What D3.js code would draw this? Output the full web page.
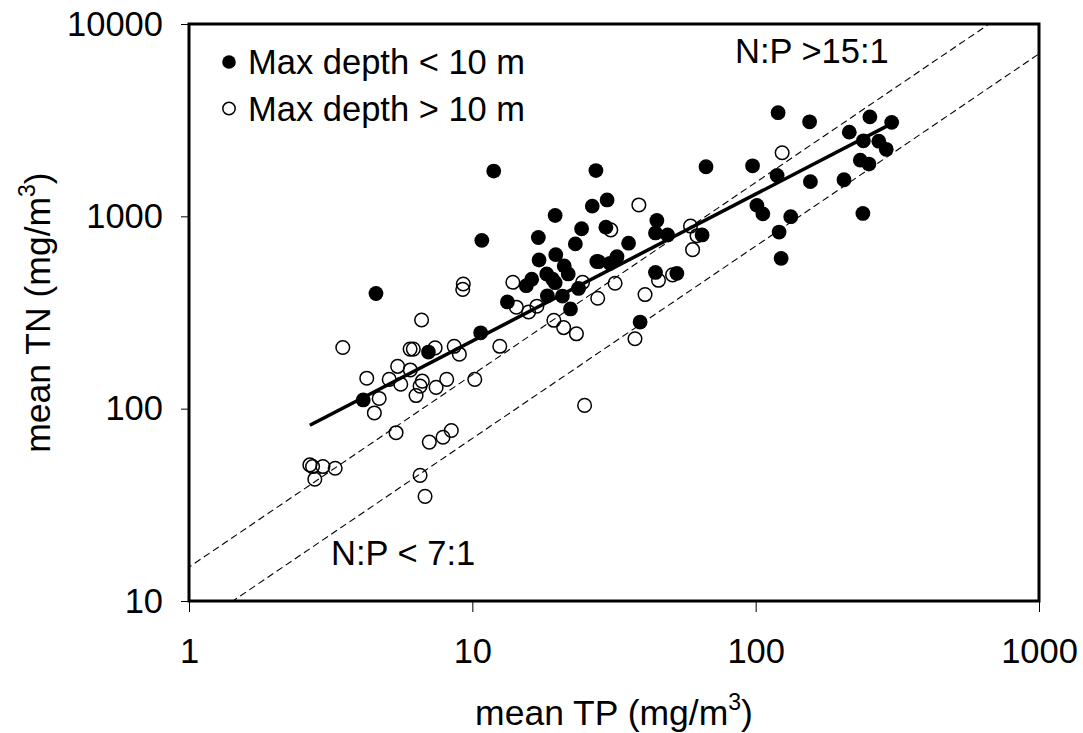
<!DOCTYPE html>
<html>
<head>
<meta charset="utf-8">
<script src="https://cdn.jsdelivr.net/npm/d3@7"></script>
<style>
body { margin: 0; background: #fff; }
svg text { font-family: "Liberation Sans", Arial, sans-serif; fill: #000; }
</style>
</head>
<body>
<svg width="1083" height="733"></svg>
<script>
// lakes with max depth < 10 m (filled markers)
const shallowTP = [11.9, 27.3, 26.5, 19.6, 10.8, 17.1, 24.3, 23.1, 4.57, 17.2,
    19.7, 21.1, 21.8, 27.5, 18.3, 19.2, 19.6, 16.2, 15.5, 23.7,
    18.4, 20.8, 22.2, 13.3, 10.7, 7.0, 4.12, 29.9, 29.6, 35.6,
    44.8, 44.3, 48.9, 64.7, 27.9, 32.4, 30.6, 44.3, 52.7, 39.1,
    120, 155, 253, 302, 214, 240, 272, 289, 66.8, 97.5,
    119, 234, 251, 156, 205, 101, 106, 133, 121, 239, 123];
const shallowTN = [1720, 1730, 1130, 1010, 750, 776, 862, 719, 397, 593,
    632, 552, 502, 583, 502, 471, 452, 471, 436, 422,
    386, 385, 330, 359, 248, 197, 111, 1217, 878, 725,
    952, 820, 800, 800, 581, 617, 570, 511, 505, 282,
    3460, 3100, 3290, 3080, 2740, 2470, 2460, 2230, 1810, 1830,
    1630, 1960, 1870, 1515, 1550, 1140, 1030, 996, 828, 1035, 604];

// lakes with max depth > 10 m (open markers)
const deepTP = [9.29, 9.25, 6.62, 13.9, 14.3, 15.8, 16.9, 24.5, 27.7, 19.4,
    21.0, 23.3, 12.5, 7.39, 8.63, 9.0, 6.66, 6.54, 8.12, 7.45,
    10.2, 6.33, 24.9, 7.05, 7.88, 8.43, 3.49, 6.03, 6.19, 5.45,
    4.24, 5.09, 6.04, 5.59, 4.69, 4.51, 5.38, 2.67, 2.73, 2.97,
    3.28, 2.78, 6.54, 6.81, 38.7, 30.8, 58.9, 62.1, 59.9, 31.9,
    45.4, 50.9, 40.7, 37.5, 124];
const deepTN = [445, 417, 289, 454, 337, 318, 341, 454, 375, 288,
    264, 245, 211, 207, 211, 192, 139, 131, 142, 129,
    142, 117, 104, 67, 71, 77, 208, 204, 204, 166,
    144, 142, 159, 134, 113, 95, 75, 51, 50, 50,
    49, 43, 45, 35, 1146, 850, 890, 793, 671, 449,
    465, 496, 392, 231, 2140];

// regression line end points
const fitTP = [2.67, 295];
const fitTN = [82, 2980];

// N:P reference ratios (dashed)
const npRatios = [15, 7];

const xTicks = [1, 10, 100, 1000];
const yTicks = [10, 100, 1000, 10000];

const svg = d3.select("svg");
const width = +svg.attr("width");
const height = +svg.attr("height");

const margin = { top: 24, right: 44, bottom: 132, left: 189 };
const inner_width = width - margin.left - margin.right;
const inner_height = height - margin.top - margin.bottom;

const plot_g = svg
    .append("g")
    .attr("transform", `translate(${margin.left}, ${margin.top})`);

const x_scale = d3.scaleLog().domain([1, 1000]).range([0, inner_width]);
const y_scale = d3.scaleLog().domain([10, 10000]).range([inner_height, 0]);

plot_g.append("clipPath")
    .attr("id", "plot-clip")
    .append("rect")
    .attr("width", inner_width)
    .attr("height", inner_height);

// axes (ticks only, the frame is drawn separately)
const x_axis = plot_g.append("g")
    .attr("transform", `translate(0, ${inner_height})`)
    .call(d3.axisBottom(x_scale).tickValues(xTicks).tickFormat(d3.format("d"))
        .tickSize(11).tickPadding(27));
const y_axis = plot_g.append("g")
    .call(d3.axisLeft(y_scale).tickValues(yTicks).tickFormat(d3.format("d"))
        .tickSize(8).tickPadding(18));

[x_axis, y_axis].forEach((a) => {
    a.select(".domain").remove();
    a.selectAll(".tick line").attr("stroke", "#000").attr("stroke-width", 1);
    a.selectAll(".tick text")
        .style("font-family", "'Liberation Sans', Arial, sans-serif")
        .style("font-size", "34.5px")
        .attr("fill", "#000");
});

// dashed N:P lines
const lines_g = plot_g.append("g").attr("clip-path", "url(#plot-clip)");
lines_g.selectAll("line.np")
    .data(npRatios)
    .enter()
    .append("line")
    .attr("class", "np")
    .attr("x1", x_scale(0.5))
    .attr("y1", (r) => y_scale(0.5 * r))
    .attr("x2", x_scale(2000))
    .attr("y2", (r) => y_scale(2000 * r))
    .attr("stroke", "#000")
    .attr("stroke-width", 1.1)
    .attr("stroke-dasharray", "7,4");

// regression line
lines_g.append("path")
    .attr("d", d3.line()(fitTP.map((d, i) => [x_scale(d), y_scale(fitTN[i])])))
    .attr("fill", "none")
    .attr("stroke", "#000")
    .attr("stroke-width", 3.5);

// points
plot_g.append("g")
    .selectAll("circle")
    .data(shallowTP)
    .enter()
    .append("circle")
    .attr("cx", (d) => x_scale(d))
    .attr("cy", (d, i) => y_scale(shallowTN[i]))
    .attr("r", 7.4)
    .attr("fill", "#000");

plot_g.append("g")
    .selectAll("circle")
    .data(deepTP)
    .enter()
    .append("circle")
    .attr("cx", (d) => x_scale(d))
    .attr("cy", (d, i) => y_scale(deepTN[i]))
    .attr("r", 6.8)
    .attr("fill", "none")
    .attr("stroke", "#000")
    .attr("stroke-width", 1.5);

// frame
plot_g.append("rect")
    .attr("width", inner_width)
    .attr("height", inner_height)
    .attr("fill", "none")
    .attr("stroke", "#000")
    .attr("stroke-width", 3);

// legend
const legend = [
    { label: "Max depth < 10 m", filled: true },
    { label: "Max depth > 10 m", filled: false },
];
const legend_g = plot_g.append("g").attr("transform", "translate(40, 38)");
legend_g.selectAll("circle")
    .data(legend)
    .enter()
    .append("circle")
    .attr("cx", 0)
    .attr("cy", (d, i) => i * 46.5)
    .attr("r", (d) => d.filled ? 6.8 : 6.2)
    .attr("fill", (d) => d.filled ? "#000" : "none")
    .attr("stroke", "#000")
    .attr("stroke-width", (d) => d.filled ? 0 : 1.5);
legend_g.selectAll("text")
    .data(legend)
    .enter()
    .append("text")
    .attr("x", 19)
    .attr("y", (d, i) => i * 46.5 + 12)
    .style("font-size", "34.5px")
    .text((d) => d.label);

// ratio annotations
plot_g.append("text")
    .attr("x", 546)
    .attr("y", 39)
    .style("font-size", "34.5px")
    .text("N:P >15:1");
plot_g.append("text")
    .attr("x", 142)
    .attr("y", 541)
    .style("font-size", "34.5px")
    .text("N:P < 7:1");

// axis titles
const x_title = svg.append("text")
    .attr("x", margin.left + inner_width / 2)
    .attr("y", 725)
    .attr("text-anchor", "middle")
    .style("font-size", "35.5px");
x_title.append("tspan").text("mean TP (mg/m");
x_title.append("tspan").attr("dy", -15).style("font-size", "23px").text("3");
x_title.append("tspan").attr("dy", 15).text(")");

const y_title = svg.append("text")
    .attr("transform", `translate(50, ${margin.top + inner_height / 2}) rotate(-90)`)
    .attr("text-anchor", "middle")
    .style("font-size", "35.5px");
y_title.append("tspan").text("mean TN (mg/m");
y_title.append("tspan").attr("dy", -15).style("font-size", "23px").text("3");
y_title.append("tspan").attr("dy", 15).text(")");
</script>
</body>
</html>
